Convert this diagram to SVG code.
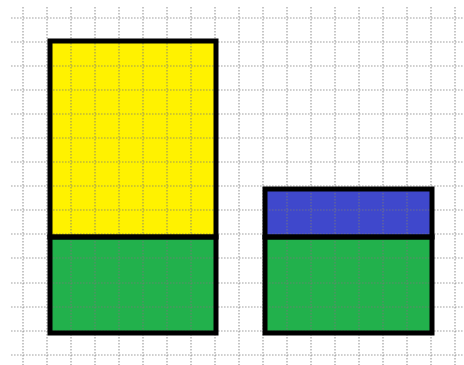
<svg xmlns="http://www.w3.org/2000/svg" width="464" height="365" viewBox="0 0 464 365">
<defs>
<style>
.fill{stroke:none}
.edge{fill:none;stroke:#000;stroke-width:5}
.grid line{stroke:#7a7a7a;stroke-width:1.2;stroke-dasharray:1.6 1.4;opacity:0.7}
</style>
</defs>
<rect width="464" height="365" fill="#fff"/>
<g id="fills">
<rect class="fill" x="50" y="41" width="166" height="196" fill="#FFF200"/>
<rect class="fill" x="50" y="237" width="166" height="96" fill="#22B14C"/>
<rect class="fill" x="265" y="189" width="167" height="48" fill="#3F48CC"/>
<rect class="fill" x="265" y="237" width="167" height="96" fill="#22B14C"/>
</g>
<g class="grid" id="grid">
<line x1="23" y1="7" x2="23" y2="365"/><line x1="47" y1="7" x2="47" y2="365"/><line x1="71" y1="7" x2="71" y2="365"/><line x1="95" y1="7" x2="95" y2="365"/><line x1="119" y1="7" x2="119" y2="365"/><line x1="143" y1="7" x2="143" y2="365"/><line x1="167" y1="7" x2="167" y2="365"/><line x1="191" y1="7" x2="191" y2="365"/><line x1="215" y1="7" x2="215" y2="365"/><line x1="239" y1="7" x2="239" y2="365"/><line x1="263" y1="7" x2="263" y2="365"/><line x1="287" y1="7" x2="287" y2="365"/><line x1="311" y1="7" x2="311" y2="365"/><line x1="335" y1="7" x2="335" y2="365"/><line x1="359" y1="7" x2="359" y2="365"/><line x1="383" y1="7" x2="383" y2="365"/><line x1="407" y1="7" x2="407" y2="365"/><line x1="431" y1="7" x2="431" y2="365"/><line x1="455" y1="7" x2="455" y2="365"/>
<line x1="11" y1="18" x2="464" y2="18"/><line x1="11" y1="42" x2="464" y2="42"/><line x1="11" y1="66" x2="464" y2="66"/><line x1="11" y1="90" x2="464" y2="90"/><line x1="11" y1="114" x2="464" y2="114"/><line x1="11" y1="138" x2="464" y2="138"/><line x1="11" y1="162" x2="464" y2="162"/><line x1="11" y1="186" x2="464" y2="186"/><line x1="11" y1="210" x2="464" y2="210"/><line x1="11" y1="234" x2="464" y2="234"/><line x1="11" y1="258" x2="464" y2="258"/><line x1="11" y1="283" x2="464" y2="283"/><line x1="11" y1="307" x2="464" y2="307"/><line x1="11" y1="331" x2="464" y2="331"/><line x1="11" y1="355" x2="464" y2="355"/>
</g>
<g id="yellow"><rect class="edge" x="50" y="41" width="166" height="196"/></g>
<g id="green-left"><rect class="edge" x="50" y="237" width="166" height="96"/></g>
<g id="blue"><rect class="edge" x="265" y="189" width="167" height="48"/></g>
<g id="green-right"><rect class="edge" x="265" y="237" width="167" height="96"/></g>
</svg>
